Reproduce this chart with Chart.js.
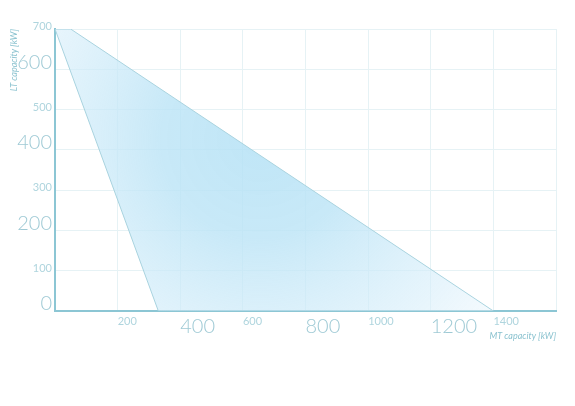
<!DOCTYPE html>
<html>
<head>
<meta charset="utf-8">
<script src="https://cdn.jsdelivr.net/npm/chart.js@4.4.1/dist/chart.umd.min.js"></script>
<style>
  html, body { margin: 0; padding: 0; background: #fff; }
  #wrap { width: 575px; height: 406px; }
</style>
</head>
<body>
<div id="wrap"><canvas id="chart"></canvas></div>
<script>
// operating envelope corners (MT kW, LT kW)
const mtValues = [0, 50, 1400, 330, 0];
const ltValues = [700, 700, 0, 0, 700];
const xTicks = [0, 200, 400, 600, 800, 1000, 1200, 1400, 1600];
const yTicks = [0, 100, 200, 300, 400, 500, 600, 700];

const points = mtValues.map((x, i) => ({ x, y: ltValues[i] }));

function areaFill(ctx) {
  const area = ctx.chart.chartArea;
  if (!area) return 'rgba(190,228,245,0.7)';
  const c = ctx.chart.ctx;
  const cx = area.left + 205, cy = area.top + 110;
  const g = c.createRadialGradient(cx, cy, 0, cx, cy, 330);
  g.addColorStop(0, 'rgba(180,225,245,0.85)');
  g.addColorStop(0.3, 'rgba(188,228,246,0.82)');
  g.addColorStop(0.7, 'rgba(215,238,250,0.6)');
  g.addColorStop(1, 'rgba(248,252,254,0.5)');
  return g;
}

const big = i => i % 2 === 0;

new Chart(document.getElementById('chart'), {
  type: 'scatter',
  data: {
    datasets: [{
      data: points,
      showLine: true,
      fill: 'shape',
      backgroundColor: areaFill,
      borderColor: '#a9d3df',
      borderWidth: 1,
      pointRadius: 0,
      tension: 0
    }]
  },
  options: {
    responsive: true,
    maintainAspectRatio: false,
    animation: false,
    layout: { padding: { left: 9, top: 29, right: 19, bottom: 65 } },
    plugins: { legend: { display: false }, tooltip: { enabled: false } },
    scales: {
      x: {
        type: 'linear',
        min: 0, max: 1600,
        afterBuildTicks: s => { s.ticks = xTicks.map(v => ({ value: v })); },
        afterFit: s => { s.height = 30; },
        border: { color: '#8cc6d4', width: 2 },
        grid: { color: '#e6f2f5', drawTicks: false },
        ticks: {
          align: 'start',
          padding: 4,
          maxRotation: 0,
          autoSkip: false,
          callback: v => (v === 0 || v === 1600) ? '' : v,
          color: ctx => (ctx.tick && ctx.tick.value % 400 === 0) ? '#9fcad5' : '#afd5de',
          font: ctx => (ctx.tick && ctx.tick.value % 400 === 0)
            ? { family: 'Lato', size: 20, weight: 300 }
            : { family: 'Lato', size: 11, weight: 400 }
        },
        title: {
          display: true,
          text: 'MT capacity [kW]',
          align: 'end',
          color: '#8ac2cf',
          padding: 0,
          font: { family: 'Lato', size: 9, style: 'italic' }
        }
      },
      y: {
        type: 'linear',
        min: 0, max: 700,
        afterBuildTicks: s => { s.ticks = yTicks.map(v => ({ value: v })); },
        afterFit: s => { s.width = 46; },
        border: { color: '#8cc6d4', width: 2 },
        grid: { color: '#e6f2f5', drawTicks: false },
        ticks: {
          align: 'end',
          padding: 3,
          labelOffset: 3,
          autoSkip: false,
          color: ctx => (ctx.tick && big(ctx.tick.value / 100)) ? '#9fcad5' : '#afd5de',
          font: ctx => (ctx.tick && big(ctx.tick.value / 100))
            ? { family: 'Lato', size: 20, weight: 300 }
            : { family: 'Lato', size: 11, weight: 400 }
        },
        title: {
          display: true,
          text: 'LT capacity [kW]',
          align: 'end',
          color: '#8ac2cf',
          padding: 0,
          font: { family: 'Lato', size: 9, style: 'italic' }
        }
      }
    }
  }
});
</script>
</body>
</html>
